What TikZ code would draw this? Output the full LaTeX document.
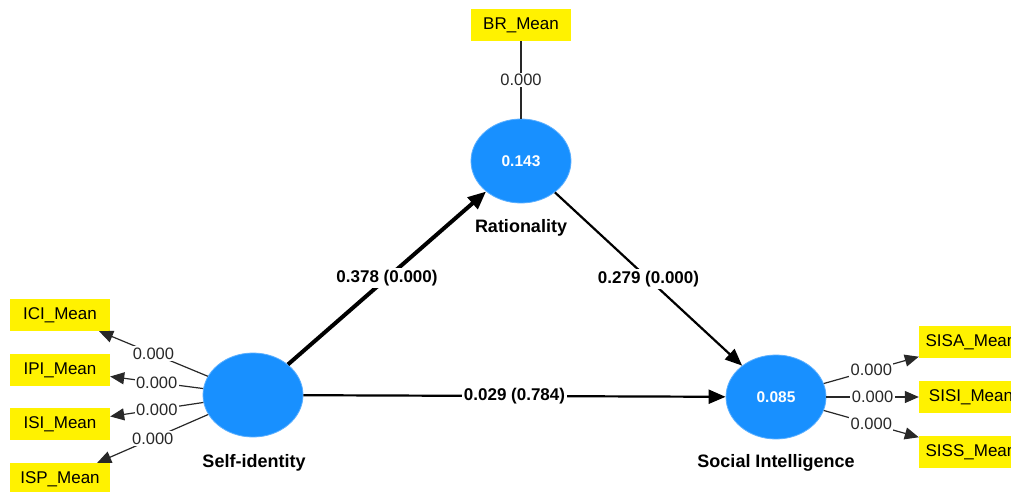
\documentclass[tikz,border=0pt]{standalone}
\usepackage{fontspec}
\setmainfont{Liberation Sans}
\usetikzlibrary{shapes.geometric,arrows.meta}
\definecolor{lvblue}{RGB}{24,144,255}
\definecolor{lvedge}{RGB}{90,175,255}
\definecolor{labgrey}{RGB}{40,40,40}
\tikzset{
 lv/.style={ellipse, fill=lvblue, draw=lvedge, line width=0.8pt, minimum width=100pt, minimum height=84pt, inner sep=0pt, text=white, font=\fontsize{15.5}{18}\selectfont\bfseries},
 ind/.style={fill=yellow, minimum width=100pt, minimum height=32pt, inner sep=0pt, font=\fontsize{17}{20}\selectfont},
 lvname/.style={font=\fontsize{18}{21}\selectfont\bfseries},
 loadline/.style={line width=1.2pt, draw=labgrey, -{Triangle[length=14pt,width=12pt]}},
 loadlab/.style={fill=white, inner sep=1.5pt, text=labgrey, font=\fontsize{16.5}{19}\selectfont},
 pathline/.style={draw=black, -{Triangle[length=17pt,width=14pt]}},
 pathlab/.style={fill=white, inner sep=2pt, font=\fontsize{17}{20}\selectfont\bfseries},
}
\begin{document}
\begin{tikzpicture}[x=1pt,y=-1pt]
\clip (0,0) rectangle (1011,492);
\fill[white] (0,0) rectangle (1011,492);
% latent variables
\node[lv] (self) at (253,395) {};
\node[lv] (rat) at (521,161) {0.143};
\node[lv] (soc) at (776,397) {0.085};
\node[lvname] (selfname) at (254,463) {Self-identity};
\node[lvname] (ratname) at (521,228) {Rationality};
\node[lvname] (socname) at (776,463) {Social Intelligence};
% indicators
\node[ind] (br) at (521,25) {BR\_Mean};
\node[ind] (ici) at (60,315) {ICI\_Mean};
\node[ind] (ipi) at (60,370) {IPI\_Mean};
\node[ind] (isi) at (60,424) {ISI\_Mean};
\node[ind] (isp) at (60,479) {ISP\_Mean};
\node[ind, minimum width=104pt] (sisa) at (971,342) {SISA\_Mean};
\node[ind, minimum width=104pt] (sisi) at (971,397) {SISI\_Mean};
\node[ind, minimum width=104pt] (siss) at (971,452) {SISS\_Mean};
% loadings
\draw[line width=1.2pt, draw=labgrey] (br) -- node[loadlab] (lbr) {0.000} (rat);
\draw[loadline] (self) -- node[loadlab] (l1) {0.000} (ici);
\draw[loadline] (self) -- node[loadlab] (l2) {0.000} (ipi);
\draw[loadline] (self) -- node[loadlab] (l3) {0.000} (isi);
\draw[loadline] (self) -- node[loadlab] (l4) {0.000} (isp);
\draw[loadline] (soc) -- node[loadlab] (l5) {0.000} (sisa);
\draw[loadline] (soc) -- node[loadlab] (l6) {0.000} (sisi);
\draw[loadline] (soc) -- node[loadlab] (l7) {0.000} (siss);
% structural paths
\draw[pathline, line width=4pt, -{Triangle[length=18pt,width=15pt]}] (self) -- node[pathlab] (p1) {0.378 (0.000)} (rat);
\draw[pathline, line width=2.2pt] (rat) -- node[pathlab] (p2) {0.279 (0.000)} (soc);
\draw[pathline, line width=2.2pt] (self) -- node[pathlab] (p3) {0.029 (0.784)} (soc);
\end{tikzpicture}
\end{document}
